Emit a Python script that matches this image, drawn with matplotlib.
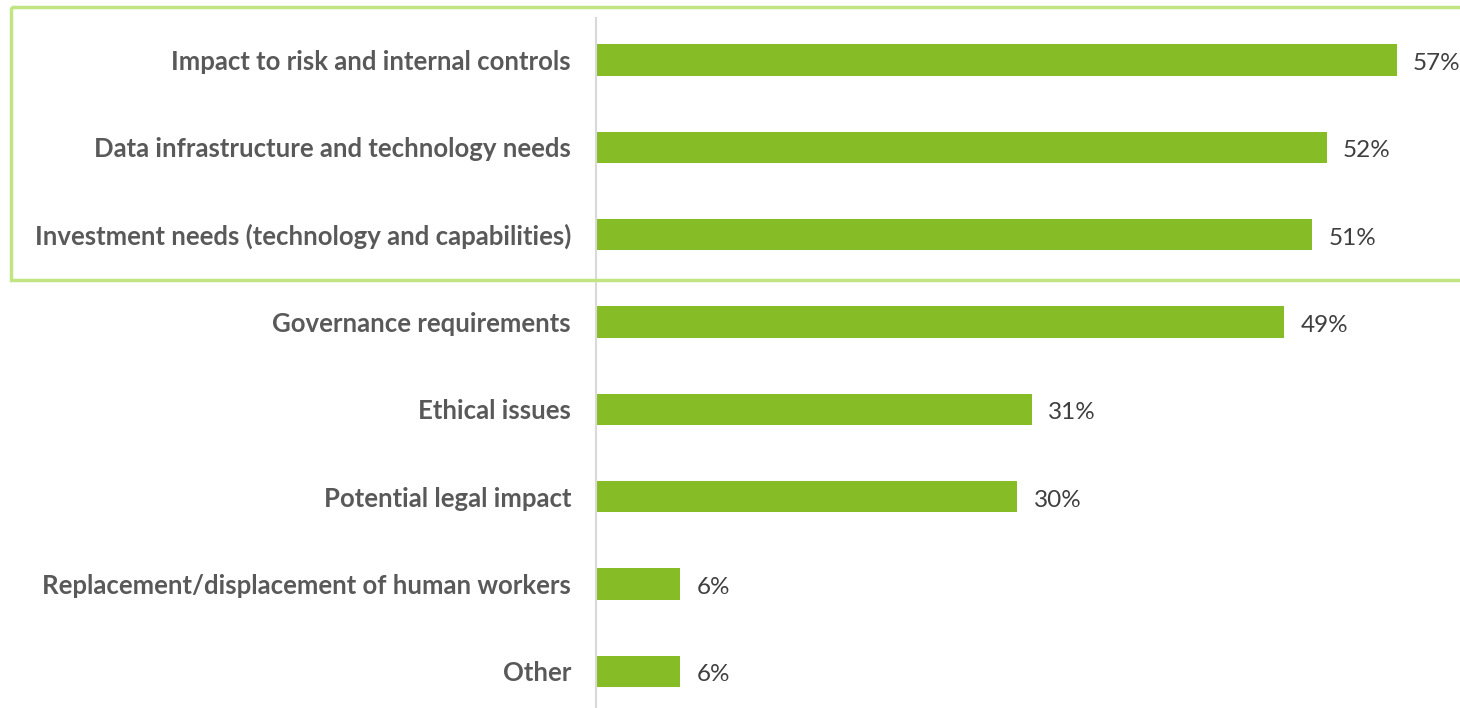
import numpy as np
import matplotlib.pyplot as plt
from matplotlib.patches import Rectangle
import matplotlib.transforms as mtransforms

plt.rcParams['font.family'] = ['Lato', 'DejaVu Sans']

categories = ['Impact to risk and internal controls',
              'Data infrastructure and technology needs',
              'Investment needs (technology and capabilities)',
              'Governance requirements',
              'Ethical issues',
              'Potential legal impact',
              'Replacement/displacement of human workers',
              'Other']
values = [57, 52, 51, 49, 31, 30, 6, 6]

bar_color = '#86BC25'
box_color = '#C2E584'

fig = plt.figure(figsize=(14.6, 7.08), dpi=100)
ax = fig.add_axes([596/1460, 0, 1 - 596/1460, 1 - 18/708])

y = np.arange(len(categories))
ax.barh(y, values, height=0.36, color=bar_color)

for yi, v in zip(y, values):
    ax.text(v + 1.15, yi + 0.04, f'{v}%', va='center', ha='left',
            fontsize=17.5, color='#3F3F3F')

ax.set_xlim(0, 61.5)
ax.set_ylim(7.42, -0.48)
ax.set_yticks(y)
ax.set_yticklabels(categories, fontsize=18.5, fontweight='bold', color='#595959')
ax.tick_params(axis='y', length=0, pad=18)
ax.set_xticks([])

for s in ['top', 'right', 'bottom']:
    ax.spines[s].set_visible(False)
ax.spines['left'].set_color('#D9D9D9')
ax.spines['left'].set_linewidth(1.5)

# highlight box around the top three items
trans = mtransforms.blended_transform_factory(fig.transFigure, ax.transData)
box = Rectangle((11/1460, -0.605), 1.0, 3.125, transform=trans, fill=False,
                edgecolor=box_color, linewidth=2.5, clip_on=False)
fig.add_artist(box)

fig.savefig('out.png', dpi=100)
